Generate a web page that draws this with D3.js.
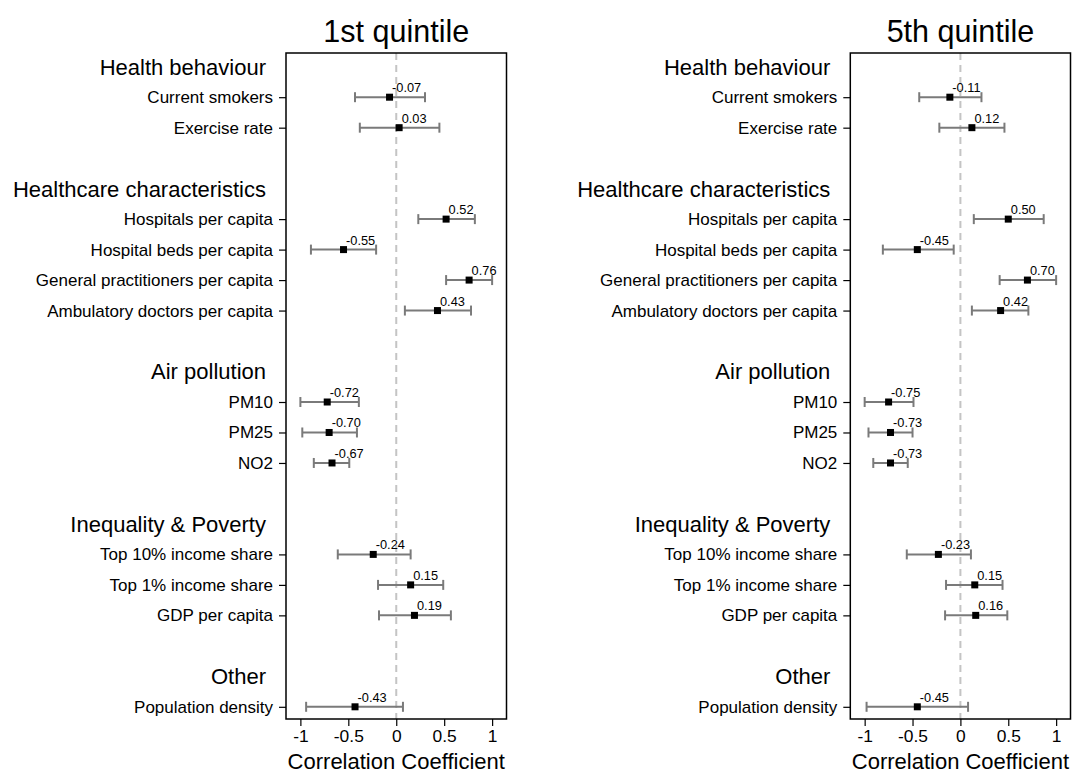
<!DOCTYPE html>
<html>
<head>
<meta charset="utf-8">
<script src="https://cdn.jsdelivr.net/npm/d3@7"></script>
<style>
  body { margin: 0; background: #fff; }
  svg { display: block; font-family: "Liberation Sans", Arial, Helvetica, sans-serif; }
</style>
</head>
<body>
<svg id="chart" width="1072" height="773"></svg>
<script>
// group headers and how many variables sit under each one
const groupNames = ["Health behaviour", "Healthcare characteristics", "Air pollution", "Inequality & Poverty", "Other"];
const groupSizes = [2, 4, 3, 3, 1];

const variables = ["Current smokers", "Exercise rate",
  "Hospitals per capita", "Hospital beds per capita", "General practitioners per capita", "Ambulatory doctors per capita",
  "PM10", "PM25", "NO2",
  "Top 10% income share", "Top 1% income share", "GDP per capita",
  "Population density"];

// 1st quintile
const q1Coef  = [-0.07, 0.03, 0.52, -0.55, 0.76, 0.43, -0.72, -0.70, -0.67, -0.24, 0.15, 0.19, -0.43];
const q1Lower = [-0.43, -0.38, 0.23, -0.89, 0.52, 0.09, -1.00, -0.98, -0.86, -0.61, -0.19, -0.18, -0.94];
const q1Upper = [0.30, 0.45, 0.82, -0.21, 1.00, 0.78, -0.39, -0.41, -0.49, 0.15, 0.49, 0.57, 0.07];

// 5th quintile
const q5Coef  = [-0.11, 0.12, 0.50, -0.45, 0.70, 0.42, -0.75, -0.73, -0.73, -0.23, 0.15, 0.16, -0.45];
const q5Lower = [-0.43, -0.22, 0.14, -0.81, 0.41, 0.12, -1.00, -0.96, -0.91, -0.56, -0.15, -0.16, -0.98];
const q5Upper = [0.22, 0.46, 0.87, -0.07, 1.00, 0.71, -0.49, -0.50, -0.55, 0.11, 0.44, 0.49, 0.08];

const xTicks = [-1, -0.5, 0, 0.5, 1];

// row slots: header, its variables, then one empty slot
var headerPos = [];
var varPos = [];
var slot = -1;
groupSizes.forEach(function(n) {
  headerPos.push(slot);
  slot += 1;
  for (let i = 0; i < n; i++) { varPos.push(slot); slot += 1; }
  slot += 1;
});

const svg = d3.select("#chart");
const plotTop = 53, plotBottom = 719;

const yScale = d3.scaleLinear().domain([-1.45, 20.4]).range([plotTop, plotBottom]);

function drawPanel(title, left, right, coef, lower, upper) {
  const xScale = d3.scaleLinear().domain([-1.15, 1.15]).range([left, right]);
  const g = svg.append("g");
  const mid = (left + right) / 2;

  // zero reference line
  g.append("line")
    .attr("x1", xScale(0)).attr("x2", xScale(0))
    .attr("y1", plotTop).attr("y2", plotBottom)
    .attr("stroke", "#c4c4c4")
    .attr("stroke-width", 2)
    .attr("stroke-dasharray", "7,5");

  // y axis with variable names
  g.append("g")
    .attr("transform", "translate(" + left + ",0)")
    .call(d3.axisLeft(yScale).tickValues(varPos).tickSize(7).tickPadding(6)
      .tickFormat((d, i) => variables[i]))
    .call(a => a.select(".domain").remove())
    .call(a => a.selectAll("line").attr("stroke", "#000").attr("stroke-width", 1.2))
    .call(a => a.selectAll("text").attr("font-size", "17px").attr("fill", "#000")
      .attr("font-family", "Liberation Sans, Arial, sans-serif"));

  // group headers
  g.selectAll(".hdr")
    .data(groupNames)
    .enter().append("text")
    .attr("class", "hdr")
    .attr("x", left - 20)
    .attr("y", (d, i) => yScale(headerPos[i]))
    .attr("dy", "0.36em")
    .attr("text-anchor", "end")
    .attr("font-size", "22px")
    .text(d => d);

  // x axis
  g.append("g")
    .attr("transform", "translate(0," + plotBottom + ")")
    .call(d3.axisBottom(xScale).tickValues(xTicks).tickSize(7).tickPadding(3.5)
      .tickFormat(d => String(d)))
    .call(a => a.select(".domain").remove())
    .call(a => a.selectAll("line").attr("stroke", "#000").attr("stroke-width", 1.2))
    .call(a => a.selectAll("text").attr("font-size", "17.4px").attr("fill", "#000")
      .attr("font-family", "Liberation Sans, Arial, sans-serif"));

  g.append("text")
    .attr("x", mid).attr("y", 768.5)
    .attr("text-anchor", "middle")
    .attr("font-size", "22px")
    .text("Correlation Coefficient");

  g.append("text")
    .attr("x", mid).attr("y", 42)
    .attr("text-anchor", "middle")
    .attr("font-size", "30.5px")
    .text(title);

  // confidence intervals
  const rows = g.selectAll(".row")
    .data(coef)
    .enter().append("g")
    .attr("class", "row");

  rows.append("line")
    .attr("x1", (d, i) => xScale(lower[i]))
    .attr("x2", (d, i) => xScale(upper[i]))
    .attr("y1", (d, i) => yScale(varPos[i]))
    .attr("y2", (d, i) => yScale(varPos[i]))
    .attr("stroke", "#7a7a7a").attr("stroke-width", 2);

  [lower, upper].forEach(function(arr) {
    rows.append("line")
      .attr("x1", (d, i) => xScale(arr[i]))
      .attr("x2", (d, i) => xScale(arr[i]))
      .attr("y1", (d, i) => yScale(varPos[i]) - 5)
      .attr("y2", (d, i) => yScale(varPos[i]) + 5)
      .attr("stroke", "#7a7a7a").attr("stroke-width", 2);
  });

  rows.append("rect")
    .attr("x", d => xScale(d) - 3.5)
    .attr("y", (d, i) => yScale(varPos[i]) - 3.5)
    .attr("width", 7).attr("height", 7)
    .attr("fill", "#000");

  rows.append("text")
    .attr("x", d => xScale(d) + 2.5)
    .attr("y", (d, i) => yScale(varPos[i]) - 5)
    .attr("font-size", "12.8px")
    .text(d => d.toFixed(2));

  // frame
  g.append("rect")
    .attr("x", left).attr("y", plotTop)
    .attr("width", right - left).attr("height", plotBottom - plotTop)
    .attr("fill", "none")
    .attr("stroke", "#000").attr("stroke-width", 1.5);
}

drawPanel("1st quintile", 286, 506.5, q1Coef, q1Lower, q1Upper);
drawPanel("5th quintile", 850.3, 1070.5, q5Coef, q5Lower, q5Upper);
</script>
</body>
</html>
